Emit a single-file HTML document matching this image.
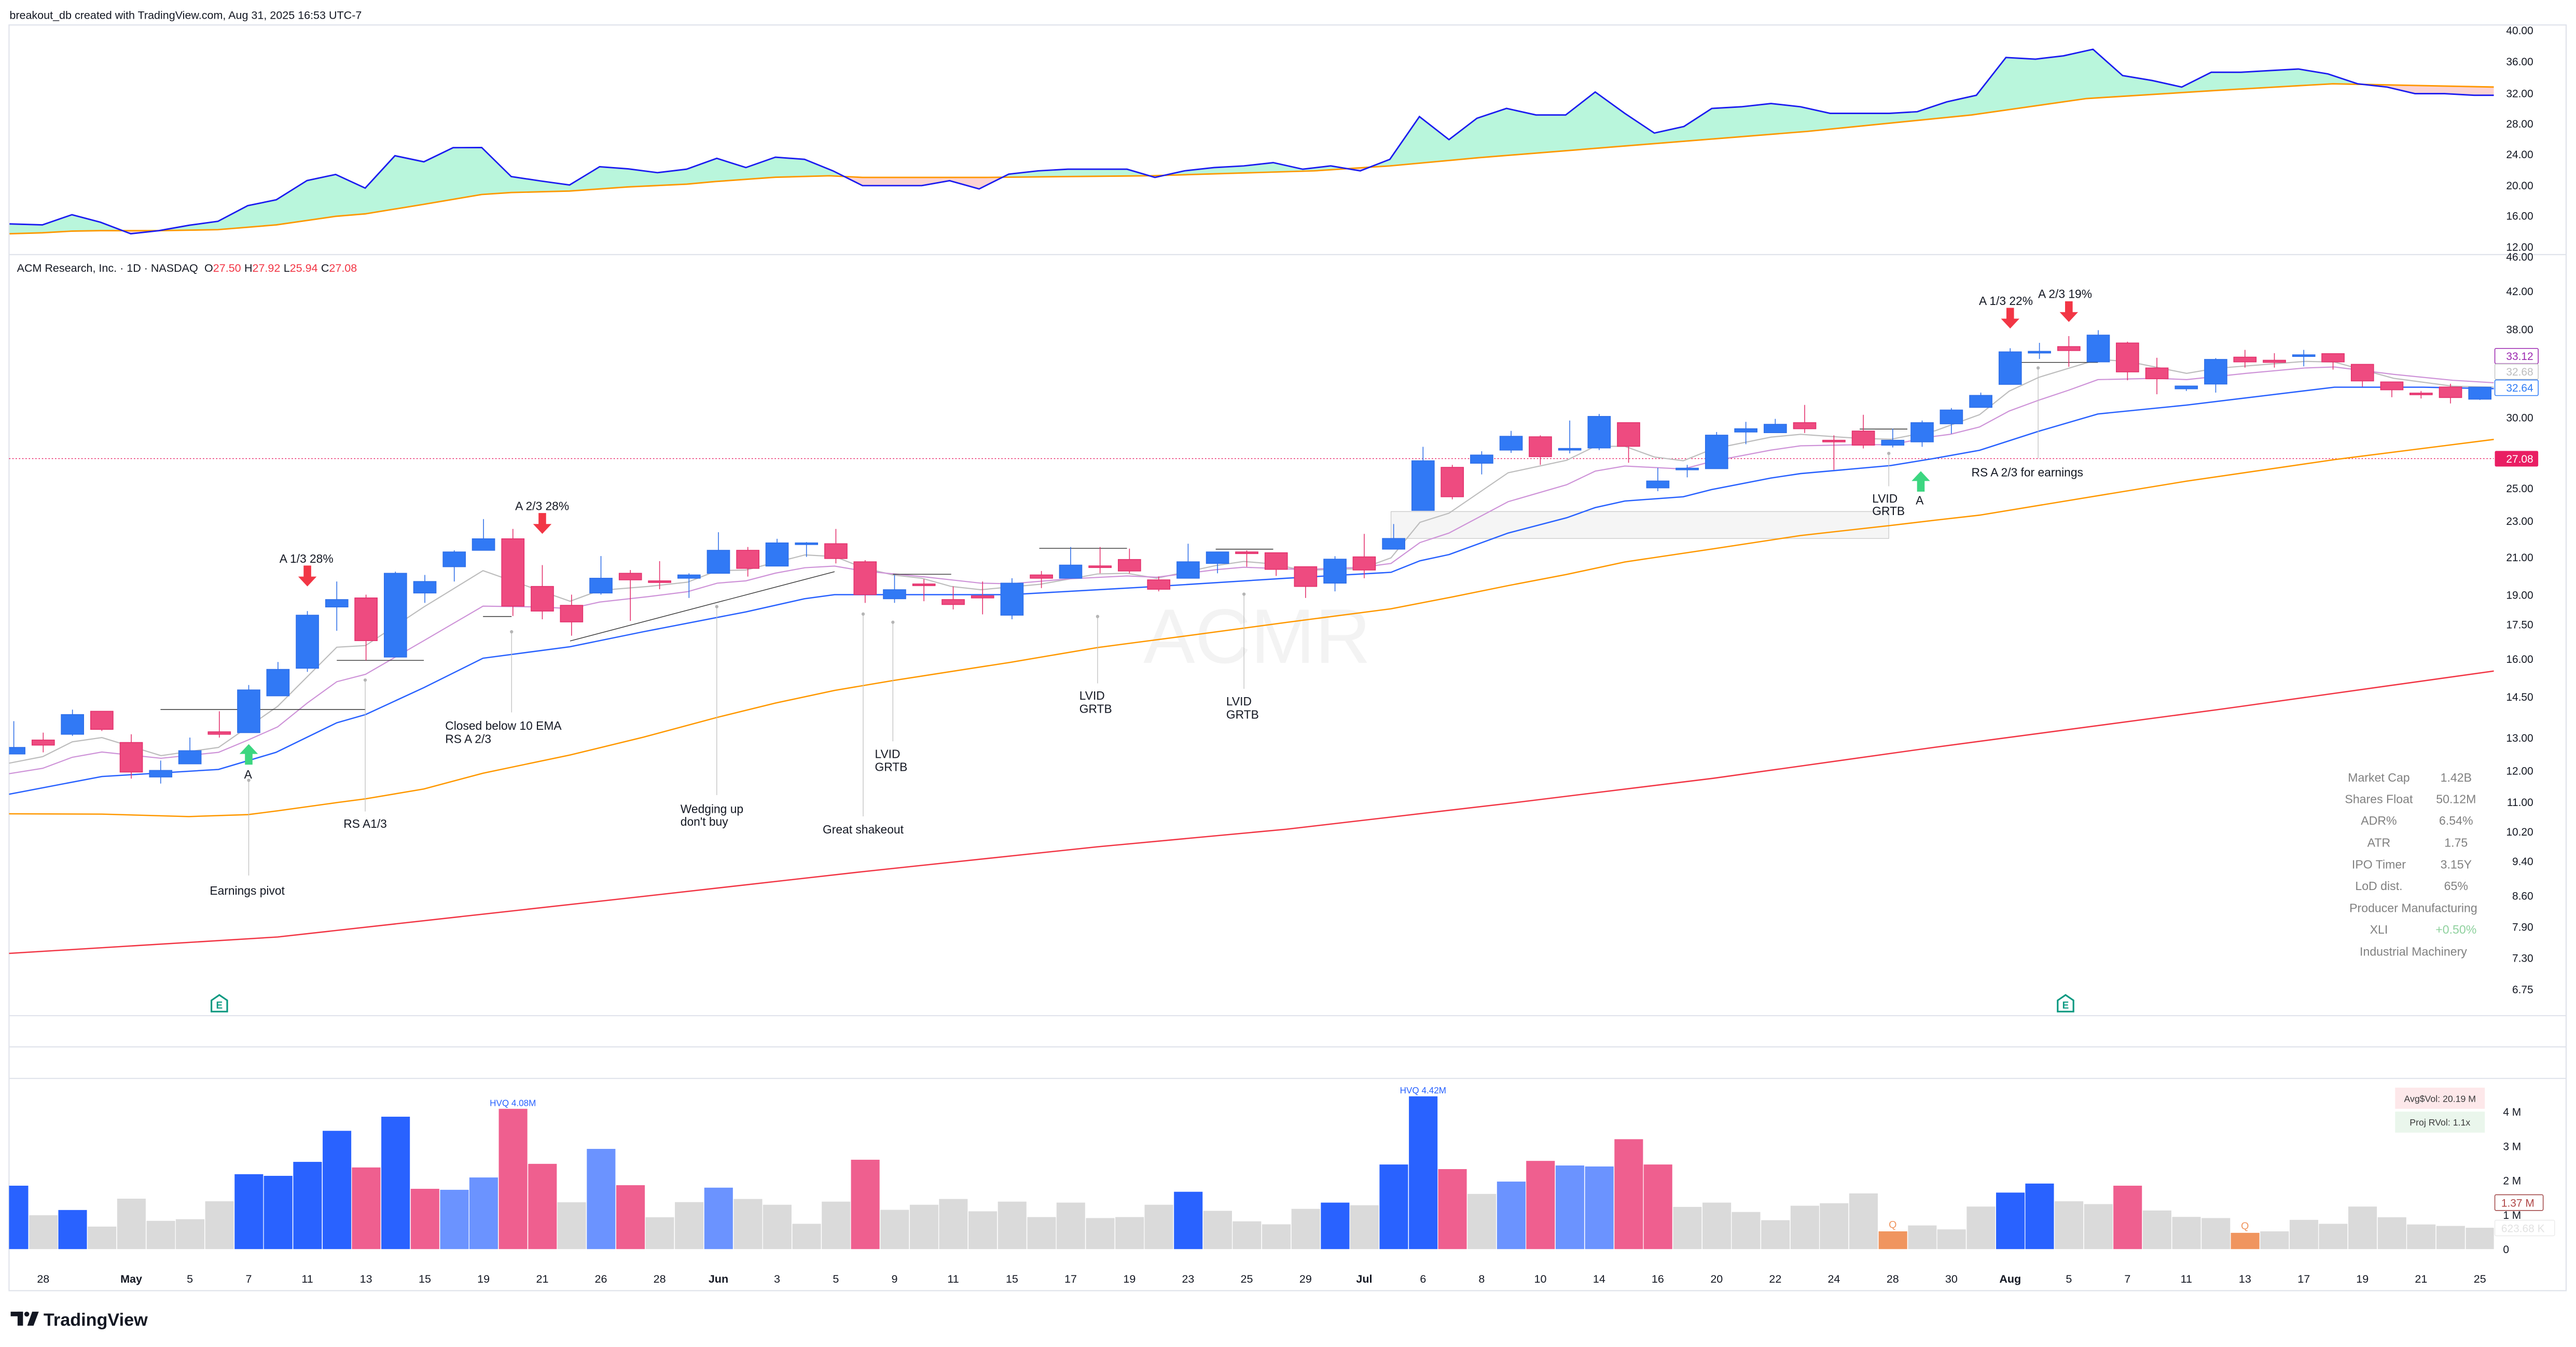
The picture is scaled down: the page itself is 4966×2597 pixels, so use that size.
<!DOCTYPE html>
<html><head><meta charset="utf-8"><style>
html,body{margin:0;padding:0;background:#fff;}
svg{display:block;}
text{font-family:"Liberation Sans",sans-serif;}
</style></head><body>
<svg width="4966" height="2597" viewBox="0 0 1568 820" preserveAspectRatio="none" xmlns="http://www.w3.org/2000/svg">
<defs>
<clipPath id="aboveO"><path d="M5.8,142.3 L25.8,141.7 L43.8,140.7 L61.2,140.4 L96.7,140.4 L132.7,139.8 L168.2,136.9 L204.3,131.7 L222.3,130.2 L257.8,124.4 L293.2,118.4 L311.2,117.2 L346.7,116.3 L382,113.8 L418,112.1 L435.6,110.5 L472,107.9 L505,107 L525,108 L600,108 L700,107 L800,104 L846,101 L900,96 L1000,88 L1100,80 L1200,70 L1270,60 L1350,55 L1420,51 L1518,53 L1518,0 L5.8,0Z"/></clipPath>
<clipPath id="belowO"><path d="M5.8,142.3 L25.8,141.7 L43.8,140.7 L61.2,140.4 L96.7,140.4 L132.7,139.8 L168.2,136.9 L204.3,131.7 L222.3,130.2 L257.8,124.4 L293.2,118.4 L311.2,117.2 L346.7,116.3 L382,113.8 L418,112.1 L435.6,110.5 L472,107.9 L505,107 L525,108 L600,108 L700,107 L800,104 L846,101 L900,96 L1000,88 L1100,80 L1200,70 L1270,60 L1350,55 L1420,51 L1518,53 L1518,160 L5.8,160Z"/></clipPath>
<clipPath id="chart"><rect x="5.5" y="15" width="1512.5" height="771"/></clipPath>
</defs>
<rect width="1568" height="820" fill="#fff"/>
<text x="5.8" y="11.5" font-size="6.8" fill="#131722">breakout_db created with TradingView.com, Aug 31, 2025 16:53 UTC-7</text>

<!-- frame -->
<g stroke="#e0e3eb" stroke-width="0.7" fill="none">
<rect x="5.5" y="15.2" width="1556.5" height="770.5"/>
<line x1="5.5" y1="155" x2="1562" y2="155"/>
<line x1="5.5" y1="618.3" x2="1562" y2="618.3"/>
<line x1="5.5" y1="637.3" x2="1562" y2="637.3"/>
<line x1="5.5" y1="656.5" x2="1562" y2="656.5"/>
</g>

<!-- top pane -->
<g clip-path="url(#chart)">
<path clip-path="url(#aboveO)" fill="#b9f6dc" d="M5.8,136.3 L25.8,136.9 L43.8,130.7 L61.2,135.3 L79.6,142.3 L96.7,140.4 L115.3,137.1 L132.7,134.7 L150.8,125.2 L168.2,121.6 L186.9,109.9 L204.3,106.2 L222.3,114.5 L240.4,94.8 L258,98.5 L275.8,89.9 L293.2,89.8 L311.2,107.5 L329.3,110.2 L346.7,112.6 L365,101.5 L382.4,102.8 L400.2,105.1 L417.9,103 L436.3,96.4 L454,102 L472,95.7 L489.7,97 L507,104 L525,113 L543,113 L561,113 L578,110 L596,115 L614,106 L632,104 L650,103 L668,103 L686,103 L703,108 L721,104 L739,102 L757,101 L775,99 L793,103 L810,101 L828,104 L846,97 L864,71 L882,85 L899,72 L917,66 L935,70 L953,70 L971,56 L989,69 L1007,81 L1025,77 L1042,66 L1060,65 L1078,63 L1096,65 L1114,69 L1132,69 L1150,69 L1167,68 L1185,62 L1203,58 L1221,35 L1239,36 L1256,34 L1274,30 L1292,46 L1310,49 L1328,53 L1346,44 L1364,44 L1381,43 L1399,42 L1417,45 L1435,51 L1453,53 L1470,57 L1488,57 L1506,58 L1518,58 L1518,155 L5.8,155Z"/>
<path clip-path="url(#belowO)" fill="#fcd3d3" d="M5.8,136.3 L25.8,136.9 L43.8,130.7 L61.2,135.3 L79.6,142.3 L96.7,140.4 L115.3,137.1 L132.7,134.7 L150.8,125.2 L168.2,121.6 L186.9,109.9 L204.3,106.2 L222.3,114.5 L240.4,94.8 L258,98.5 L275.8,89.9 L293.2,89.8 L311.2,107.5 L329.3,110.2 L346.7,112.6 L365,101.5 L382.4,102.8 L400.2,105.1 L417.9,103 L436.3,96.4 L454,102 L472,95.7 L489.7,97 L507,104 L525,113 L543,113 L561,113 L578,110 L596,115 L614,106 L632,104 L650,103 L668,103 L686,103 L703,108 L721,104 L739,102 L757,101 L775,99 L793,103 L810,101 L828,104 L846,97 L864,71 L882,85 L899,72 L917,66 L935,70 L953,70 L971,56 L989,69 L1007,81 L1025,77 L1042,66 L1060,65 L1078,63 L1096,65 L1114,69 L1132,69 L1150,69 L1167,68 L1185,62 L1203,58 L1221,35 L1239,36 L1256,34 L1274,30 L1292,46 L1310,49 L1328,53 L1346,44 L1364,44 L1381,43 L1399,42 L1417,45 L1435,51 L1453,53 L1470,57 L1488,57 L1506,58 L1518,58 L1518,16 L5.8,16Z"/>
<polyline fill="none" stroke="#ff9800" stroke-width="0.9" points="5.8,142.3 25.8,141.7 43.8,140.7 61.2,140.4 96.7,140.4 132.7,139.8 168.2,136.9 204.3,131.7 222.3,130.2 257.8,124.4 293.2,118.4 311.2,117.2 346.7,116.3 382,113.8 418,112.1 435.6,110.5 472,107.9 505,107 525,108 600,108 700,107 800,104 846,101 900,96 1000,88 1100,80 1200,70 1270,60 1350,55 1420,51 1518,53"/>
<polyline fill="none" stroke="#1c1cf0" stroke-width="0.9" points="5.8,136.3 25.8,136.9 43.8,130.7 61.2,135.3 79.6,142.3 96.7,140.4 115.3,137.1 132.7,134.7 150.8,125.2 168.2,121.6 186.9,109.9 204.3,106.2 222.3,114.5 240.4,94.8 258,98.5 275.8,89.9 293.2,89.8 311.2,107.5 329.3,110.2 346.7,112.6 365,101.5 382.4,102.8 400.2,105.1 417.9,103 436.3,96.4 454,102 472,95.7 489.7,97 507,104 525,113 543,113 561,113 578,110 596,115 614,106 632,104 650,103 668,103 686,103 703,108 721,104 739,102 757,101 775,99 793,103 810,101 828,104 846,97 864,71 882,85 899,72 917,66 935,70 953,70 971,56 989,69 1007,81 1025,77 1042,66 1060,65 1078,63 1096,65 1114,69 1132,69 1150,69 1167,68 1185,62 1203,58 1221,35 1239,36 1256,34 1274,30 1292,46 1310,49 1328,53 1346,44 1364,44 1381,43 1399,42 1417,45 1435,51 1453,53 1470,57 1488,57 1506,58 1518,58"/>
</g>
<g font-size="6.6" fill="#131722" text-anchor="end">
<text x="1542" y="20.8">40.00</text><text x="1542" y="39.8">36.00</text><text x="1542" y="59.2">32.00</text><text x="1542" y="77.7">28.00</text><text x="1542" y="96.3">24.00</text><text x="1542" y="115.3">20.00</text><text x="1542" y="133.7">16.00</text><text x="1542" y="152.6">12.00</text>
</g>

<!-- legend -->
<text x="10.3" y="165.5" font-size="6.8" fill="#131722">ACM Research, Inc. · 1D · NASDAQ <tspan dx="2">O</tspan><tspan fill="#f23645">27.50</tspan><tspan dx="2">H</tspan><tspan fill="#f23645">27.92</tspan><tspan dx="2">L</tspan><tspan fill="#f23645">25.94</tspan><tspan dx="2">C</tspan><tspan fill="#f23645">27.08</tspan></text>

<!-- watermark -->
<text x="696" y="403.5" font-size="47" fill="#f3f3f3">ACMR</text>

<!-- main pane -->
<g clip-path="url(#chart)">
<line x1="5.5" y1="279.2" x2="1518" y2="279.2" stroke="#e91e63" stroke-width="0.5" stroke-dasharray="0.8,1.2"/>
<rect x="846.7" y="311.4" width="303" height="16.4" fill="#f5f5f5" stroke="#c8c8c8" stroke-width="0.4"/>
<polyline fill="none" stroke="#f23645" stroke-width="0.8" points="5.5,580.4 169,570.4 294,556.5 391.5,545.7 525.4,530.6 668,515.5 783,504.8 918,489.1 1042.8,473.8 1177.7,454.9 1350,432 1518,408.5"/>
<polyline fill="none" stroke="#ff9800" stroke-width="0.8" points="5.5,495.4 62,495.6 115,497.1 151,495.9 169,493.6 205,488.6 222.5,486.3 258,480.3 294,470.7 347,459.6 391.5,448.8 436.6,436.7 472,428 508,420.3 543.5,414.3 615,403.2 668,394.2 722,387.1 783,378.9 846.7,370.6 882,363.8 918,356.5 953.6,349.7 989,342.1 1042.8,334.1 1096,326 1149.7,320 1177.7,316.7 1205,313.6 1331,292.9 1421,279.8 1518,267.5"/>
<polyline fill="none" stroke="#bdbdbd" stroke-width="0.7" points="5.5,464.6 26,460.6 44,451.6 62,449 98,460 133,455 169,430 205,394 222.5,393 258,369.5 294,347.4 347,366 365,359.4 394.7,357 418.5,354.4 436.6,347.4 454,347 490,337.8 508,338.8 525.4,345.6 543.5,350 561,352 579,357 597,359 633,355.7 668,349.4 686,349 704,352 740,344.3 757,341.8 775,343.3 793,347.2 828.6,346.2 846.7,339.6 864.3,318 882,312.4 918,287.8 953.6,280.2 971,271.7 989,271.7 1007,278.2 1024.6,280.5 1042.8,273.2 1078,266.1 1096,264.4 1132,266.9 1151,267.4 1178,262.2 1205,252.4 1223,238.1 1241,229.7 1277,218.8 1295,220 1331,227.3 1349,224.2 1403,220 1421,220.4 1457,230.3 1493,235.1 1518,235.7"/>
<polyline fill="none" stroke="#ce93d8" stroke-width="0.7" points="5.5,471 26,467.7 44,461 62,457.8 98,461.6 133,458 151,450.5 169,442.5 187,428 205,415 222.5,410.5 258,390 294,369 329,369.5 347,370.5 365,366.5 394.7,363.2 418.5,360.2 436.6,355 454,353.6 472,348.9 490,345.6 508,344.6 525.4,347.6 561,351 597,355 615,355.4 650.5,352.4 686,350.6 704,351.4 740,346.8 757,345.3 793,346.7 828.6,345.4 846.7,343 864.3,330.3 882,324.5 918,305.4 953.6,295.1 971,286.8 989,283.7 1024.6,285.5 1042.8,280.7 1078,274 1096,271.4 1132,270.7 1151,270.7 1177.7,265.6 1187,264.4 1205,259.9 1223,250.2 1241,243.6 1259,237.6 1277,231.1 1313,230.3 1331,231.1 1367,227.3 1403,224 1421,223.4 1457,227.9 1493,231.5 1518,233"/>
<polyline fill="none" stroke="#2962ff" stroke-width="0.8" points="5.5,483.5 62,472.7 133,468.4 168,458 205,440 222.5,435 258,418.6 294,400.7 347,393.7 391.5,384.6 454,372.5 489.7,364.5 508,362 615,362 704,357 783,352 846.7,348.4 864.3,341.4 882,337.6 918,324.5 953.6,315.2 971,309 989,305 1024.6,302.4 1042,298 1078,291 1096,288.3 1151,283.4 1177.7,279 1205,274.1 1241,262.5 1277,252 1331,246.6 1421,235.7 1475,235.7 1518,236.6"/>
<g stroke="#333" stroke-width="0.45">
<line x1="97.7" y1="431.9" x2="222.5" y2="431.9"/><line x1="205" y1="402" x2="258" y2="402"/><line x1="294" y1="375.3" x2="311.4" y2="375.3"/><line x1="347" y1="390.2" x2="508" y2="348"/><line x1="543.5" y1="349.6" x2="579" y2="349.6"/><line x1="632.6" y1="333.8" x2="686" y2="333.8"/><line x1="740" y1="334.3" x2="775" y2="334.3"/><line x1="1132" y1="261.2" x2="1161" y2="261.2"/><line x1="1230" y1="220.6" x2="1277" y2="220.6"/>
</g>
<!-- blue candles -->
<g fill="#3179f5" stroke="#2f6fe8" stroke-width="0.5">
<line x1="8.4" y1="439" x2="8.4" y2="459"/><rect x="1.6" y="455" width="13.6" height="4"/>
<line x1="44.1" y1="432" x2="44.1" y2="448"/><rect x="37.3" y="435" width="13.6" height="12"/>
<line x1="97.8" y1="463" x2="97.8" y2="477"/><rect x="91" y="469" width="13.6" height="4"/>
<line x1="115.6" y1="449" x2="115.6" y2="465"/><rect x="108.8" y="457" width="13.6" height="8"/>
<line x1="151.4" y1="417" x2="151.4" y2="446"/><rect x="144.6" y="420" width="13.6" height="26"/>
<line x1="169.2" y1="403" x2="169.2" y2="423.6"/><rect x="162.4" y="407.5" width="13.6" height="16.1"/>
<line x1="187.1" y1="372" x2="187.1" y2="409"/><rect x="180.3" y="374.5" width="13.6" height="32.3"/>
<line x1="205" y1="354" x2="205" y2="384"/><rect x="198.2" y="365" width="13.6" height="4.5"/>
<line x1="240.7" y1="348" x2="240.7" y2="400"/><rect x="233.9" y="349" width="13.6" height="51"/>
<line x1="258.6" y1="350" x2="258.6" y2="367"/><rect x="251.8" y="354" width="13.6" height="7"/>
<line x1="276.5" y1="335" x2="276.5" y2="354"/><rect x="269.7" y="336" width="13.6" height="9"/>
<line x1="294.3" y1="316" x2="294.3" y2="335"/><rect x="287.5" y="328" width="13.6" height="7"/>
<line x1="365.8" y1="338.5" x2="365.8" y2="362"/><rect x="359" y="352" width="13.6" height="9"/>
<line x1="419.4" y1="349" x2="419.4" y2="364"/><rect x="412.6" y="350" width="13.6" height="2"/>
<line x1="437.3" y1="324" x2="437.3" y2="349"/><rect x="430.5" y="335" width="13.6" height="14"/>
<line x1="473" y1="328" x2="473" y2="344.6"/><rect x="466.2" y="330.5" width="13.6" height="14.1"/>
<line x1="490.9" y1="330" x2="490.9" y2="339"/><rect x="484.1" y="330.5" width="13.6" height="1"/>
<line x1="544.5" y1="350" x2="544.5" y2="367"/><rect x="537.7" y="359" width="13.6" height="5.5"/>
<line x1="616" y1="352" x2="616" y2="377"/><rect x="609.2" y="355" width="13.6" height="19.5"/>
<line x1="651.7" y1="333" x2="651.7" y2="352"/><rect x="644.9" y="344" width="13.6" height="8"/>
<line x1="723.2" y1="331" x2="723.2" y2="352"/><rect x="716.4" y="342" width="13.6" height="10"/>
<line x1="741.1" y1="336" x2="741.1" y2="349"/><rect x="734.3" y="336" width="13.6" height="7"/>
<line x1="812.6" y1="338.6" x2="812.6" y2="360"/><rect x="805.8" y="340.4" width="13.6" height="14.6"/>
<line x1="848.3" y1="319" x2="848.3" y2="334.3"/><rect x="841.5" y="327.8" width="13.6" height="6.5"/>
<line x1="866.2" y1="272" x2="866.2" y2="310.7"/><rect x="859.4" y="280.5" width="13.6" height="30.2"/>
<line x1="901.9" y1="274.7" x2="901.9" y2="288.8"/><rect x="895.1" y="277" width="13.6" height="5"/>
<line x1="919.8" y1="262.3" x2="919.8" y2="275.7"/><rect x="913" y="265.6" width="13.6" height="8.4"/>
<line x1="955.5" y1="256" x2="955.5" y2="276"/><rect x="948.7" y="273" width="13.6" height="1"/>
<line x1="973.4" y1="252" x2="973.4" y2="274"/><rect x="966.6" y="253.5" width="13.6" height="19.2"/>
<line x1="1009.1" y1="284.8" x2="1009.1" y2="299"/><rect x="1002.3" y="292.8" width="13.6" height="4.2"/>
<line x1="1027" y1="283" x2="1027" y2="290.6"/><rect x="1020.2" y="285" width="13.6" height="1"/>
<line x1="1044.9" y1="263" x2="1044.9" y2="285.3"/><rect x="1038.1" y="264.9" width="13.6" height="20.4"/>
<line x1="1062.7" y1="256.8" x2="1062.7" y2="270.4"/><rect x="1055.9" y="261" width="13.6" height="2"/>
<line x1="1080.6" y1="255" x2="1080.6" y2="263.4"/><rect x="1073.8" y="258.3" width="13.6" height="5.1"/>
<line x1="1152.1" y1="261" x2="1152.1" y2="272.4"/><rect x="1145.3" y="268" width="13.6" height="3"/>
<line x1="1170" y1="256" x2="1170" y2="272"/><rect x="1163.2" y="257.3" width="13.6" height="11.7"/>
<line x1="1187.8" y1="248.4" x2="1187.8" y2="264"/><rect x="1181" y="249.6" width="13.6" height="8.4"/>
<line x1="1205.7" y1="239" x2="1205.7" y2="248"/><rect x="1198.9" y="240.7" width="13.6" height="7.3"/>
<line x1="1223.6" y1="212" x2="1223.6" y2="234"/><rect x="1216.8" y="214.2" width="13.6" height="19.8"/>
<line x1="1241.4" y1="208.7" x2="1241.4" y2="218.5"/><rect x="1234.6" y="213.9" width="13.6" height="1"/>
<line x1="1277.2" y1="201" x2="1277.2" y2="220.3"/><rect x="1270.4" y="204" width="13.6" height="16.3"/>
<line x1="1330.8" y1="235" x2="1330.8" y2="238"/><rect x="1324" y="235" width="13.6" height="1.7"/>
<line x1="1348.7" y1="218" x2="1348.7" y2="239"/><rect x="1341.9" y="218.8" width="13.6" height="15"/>
<line x1="1402.3" y1="213" x2="1402.3" y2="223"/><rect x="1395.5" y="216" width="13.6" height="1"/>
<line x1="1509.5" y1="235.7" x2="1509.5" y2="243.5"/><rect x="1502.7" y="235.7" width="13.6" height="7.3"/>
</g>
<!-- pink candles -->
<g fill="#ee4b80" stroke="#e3306c" stroke-width="0.5">
<line x1="26.3" y1="446" x2="26.3" y2="458"/><rect x="19.5" y="450.5" width="13.6" height="3.1"/>
<line x1="62" y1="433" x2="62" y2="445"/><rect x="55.2" y="433" width="13.6" height="11"/>
<line x1="79.9" y1="447" x2="79.9" y2="474"/><rect x="73.1" y="452" width="13.6" height="18"/>
<line x1="133.5" y1="433" x2="133.5" y2="449"/><rect x="126.7" y="445.5" width="13.6" height="1.5"/>
<line x1="222.8" y1="362" x2="222.8" y2="402"/><rect x="216" y="364" width="13.6" height="26"/>
<line x1="312.2" y1="322" x2="312.2" y2="375"/><rect x="305.4" y="328" width="13.6" height="41"/>
<line x1="330.1" y1="344" x2="330.1" y2="377"/><rect x="323.3" y="357" width="13.6" height="15"/>
<line x1="347.9" y1="362" x2="347.9" y2="387"/><rect x="341.1" y="368.5" width="13.6" height="10.1"/>
<line x1="383.7" y1="347" x2="383.7" y2="378"/><rect x="376.9" y="349" width="13.6" height="4"/>
<line x1="401.5" y1="341.6" x2="401.5" y2="358.7"/><rect x="394.7" y="353.6" width="13.6" height="1"/>
<line x1="455.2" y1="333" x2="455.2" y2="351"/><rect x="448.4" y="335" width="13.6" height="11"/>
<line x1="508.8" y1="322" x2="508.8" y2="343"/><rect x="502" y="331" width="13.6" height="9"/>
<line x1="526.6" y1="341" x2="526.6" y2="367"/><rect x="519.8" y="342" width="13.6" height="20"/>
<line x1="562.4" y1="352.6" x2="562.4" y2="366"/><rect x="555.6" y="355.5" width="13.6" height="1"/>
<line x1="580.2" y1="357" x2="580.2" y2="371"/><rect x="573.4" y="365" width="13.6" height="3"/>
<line x1="598.1" y1="354" x2="598.1" y2="374"/><rect x="591.3" y="362.7" width="13.6" height="1.3"/>
<line x1="633.9" y1="347.6" x2="633.9" y2="358"/><rect x="627.1" y="350" width="13.6" height="2"/>
<line x1="669.6" y1="333" x2="669.6" y2="349"/><rect x="662.8" y="344.5" width="13.6" height="1"/>
<line x1="687.5" y1="334" x2="687.5" y2="349"/><rect x="680.7" y="340.6" width="13.6" height="7"/>
<line x1="705.3" y1="351" x2="705.3" y2="360"/><rect x="698.5" y="353" width="13.6" height="5.7"/>
<line x1="758.9" y1="335" x2="758.9" y2="345"/><rect x="752.1" y="336" width="13.6" height="1"/>
<line x1="776.8" y1="336.5" x2="776.8" y2="350.6"/><rect x="770" y="336.5" width="13.6" height="10.1"/>
<line x1="794.7" y1="345" x2="794.7" y2="364"/><rect x="787.9" y="345" width="13.6" height="12"/>
<line x1="830.4" y1="325" x2="830.4" y2="352"/><rect x="823.6" y="339" width="13.6" height="8"/>
<line x1="884" y1="283" x2="884" y2="304"/><rect x="877.2" y="284.5" width="13.6" height="17.9"/>
<line x1="937.6" y1="265" x2="937.6" y2="283"/><rect x="930.8" y="265.9" width="13.6" height="12.1"/>
<line x1="991.3" y1="257.3" x2="991.3" y2="281.7"/><rect x="984.5" y="257.3" width="13.6" height="14.4"/>
<line x1="1098.5" y1="246.5" x2="1098.5" y2="263.6"/><rect x="1091.7" y="257.3" width="13.6" height="3.7"/>
<line x1="1116.3" y1="265" x2="1116.3" y2="286"/><rect x="1109.5" y="268" width="13.6" height="1"/>
<line x1="1134.2" y1="252.5" x2="1134.2" y2="273"/><rect x="1127.4" y="262.4" width="13.6" height="8.6"/>
<line x1="1259.3" y1="204.6" x2="1259.3" y2="223.3"/><rect x="1252.5" y="211" width="13.6" height="2.4"/>
<line x1="1295" y1="208" x2="1295" y2="231.5"/><rect x="1288.2" y="208.8" width="13.6" height="17.6"/>
<line x1="1312.9" y1="217.8" x2="1312.9" y2="240"/><rect x="1306.1" y="224" width="13.6" height="6.6"/>
<line x1="1366.5" y1="213" x2="1366.5" y2="223.8"/><rect x="1359.7" y="217.4" width="13.6" height="2.9"/>
<line x1="1384.4" y1="215" x2="1384.4" y2="223.8"/><rect x="1377.6" y="219.3" width="13.6" height="1.3"/>
<line x1="1420.1" y1="215.3" x2="1420.1" y2="225"/><rect x="1413.3" y="215.3" width="13.6" height="5"/>
<line x1="1438" y1="221.8" x2="1438" y2="235.4"/><rect x="1431.2" y="221.8" width="13.6" height="10.1"/>
<line x1="1455.9" y1="232.5" x2="1455.9" y2="241.8"/><rect x="1449.1" y="232.5" width="13.6" height="4.8"/>
<line x1="1473.7" y1="238" x2="1473.7" y2="242.6"/><rect x="1466.9" y="239.3" width="13.6" height="1"/>
<line x1="1491.6" y1="233.6" x2="1491.6" y2="245.6"/><rect x="1484.8" y="235.6" width="13.6" height="6.4"/>
</g>
</g>

<!-- annotation leader lines -->
<g stroke="#bdbdbd" stroke-width="0.4">
<line x1="151.4" y1="475" x2="151.4" y2="533"/><line x1="222.3" y1="414" x2="222.3" y2="494"/><line x1="311.4" y1="384.6" x2="311.4" y2="433.7"/><line x1="436.3" y1="369.3" x2="436.3" y2="484"/><line x1="525.4" y1="373.8" x2="525.4" y2="497"/><line x1="543.5" y1="378.8" x2="543.5" y2="451.3"/><line x1="668.1" y1="375.3" x2="668.1" y2="416"/><line x1="757.2" y1="361.7" x2="757.2" y2="419.3"/><line x1="1149.7" y1="276" x2="1149.7" y2="296"/><line x1="1240.6" y1="224" x2="1240.6" y2="279"/>
</g>
<g fill="#b5b5b5">
<circle cx="151.4" cy="475" r="1"/><circle cx="222.3" cy="414" r="1"/><circle cx="311.4" cy="384.6" r="1"/><circle cx="436.3" cy="369.3" r="1"/><circle cx="525.4" cy="373.8" r="1"/><circle cx="543.5" cy="378.8" r="1"/><circle cx="668.1" cy="375.3" r="1"/><circle cx="757.2" cy="361.7" r="1"/><circle cx="1149.7" cy="276" r="1"/><circle cx="1240.6" cy="224" r="1"/>
</g>
<!-- arrows -->
<g fill="#f23645">
<polygon points="184.8,344.3 189.4,344.3 189.4,351 192.7,351 187.1,357 181.5,351 184.8,351"/>
<polygon points="327.8,312.3 332.4,312.3 332.4,319 335.7,319 330.1,325 324.5,319 327.8,319"/>
<polygon points="1221.3,187.4 1225.9,187.4 1225.9,194 1229.2,194 1223.6,200 1218,194 1221.3,194"/>
<polygon points="1257,183.4 1261.6,183.4 1261.6,190 1264.9,190 1259.3,196 1253.7,190 1257,190"/>
</g>
<g fill="#3cd680">
<polygon points="151.4,453 157,459 153.7,459 153.7,465.5 149.1,465.5 149.1,459 145.8,459"/>
<polygon points="1169.2,286.8 1174.8,292.8 1171.5,292.8 1171.5,299.3 1166.9,299.3 1166.9,292.8 1163.6,292.8"/>
</g>
<g font-size="7.2" fill="#131722">
<text x="186.5" y="342.6" text-anchor="middle">A 1/3 28%</text>
<text x="330" y="310.5" text-anchor="middle">A 2/3 28%</text>
<text x="1221" y="185.6" text-anchor="middle">A 1/3 22%</text>
<text x="1257" y="181.4" text-anchor="middle">A 2/3 19%</text>
<text x="151" y="474" text-anchor="middle">A</text>
<text x="1168.5" y="307" text-anchor="middle">A</text>
<text x="150.5" y="544.7" text-anchor="middle">Earnings pivot</text>
<text x="222.3" y="504" text-anchor="middle">RS A1/3</text>
<text x="271" y="444.3">Closed below 10 EMA</text>
<text x="271" y="452.3">RS A 2/3</text>
<text x="414.2" y="494.9">Wedging up</text>
<text x="414.2" y="502.7">don't buy</text>
<text x="525.4" y="507.4" text-anchor="middle">Great shakeout</text>
<text x="532.5" y="461.4">LVID</text><text x="532.5" y="469.4">GRTB</text>
<text x="657" y="426">LVID</text><text x="657" y="434">GRTB</text>
<text x="746.4" y="429.4">LVID</text><text x="746.4" y="437.5">GRTB</text>
<text x="1139.6" y="306">LVID</text><text x="1139.6" y="313.6">GRTB</text>
<text x="1200" y="290">RS A 2/3 for earnings</text>
</g>
<!-- E markers -->
<g fill="#fff" stroke="#089981" stroke-width="1">
<path d="M128.7,609 L133.5,605.7 L138.3,609 L138.3,615.8 L128.7,615.8Z"/>
<path d="M1252.5,609 L1257.3,605.7 L1262.1,609 L1262.1,615.8 L1252.5,615.8Z"/>
</g>
<g font-size="6" font-weight="bold" fill="#089981" text-anchor="middle"><text x="133.5" y="614">E</text><text x="1257.3" y="614">E</text></g>

<!-- info table -->
<g font-size="7.3" fill="#808080" text-anchor="middle">
<text x="1448" y="475.8">Market Cap</text><text x="1495" y="475.8">1.42B</text>
<text x="1448" y="489">Shares Float</text><text x="1495" y="489">50.12M</text>
<text x="1448" y="502.1">ADR%</text><text x="1495" y="502.1">6.54%</text>
<text x="1448" y="515.5">ATR</text><text x="1495" y="515.5">1.75</text>
<text x="1448" y="528.7">IPO Timer</text><text x="1495" y="528.7">3.15Y</text>
<text x="1448" y="541.9">LoD dist.</text><text x="1495" y="541.9">65%</text>
<text x="1469" y="555.3">Producer Manufacturing</text>
<text x="1448" y="568.4">XLI</text><text x="1495" y="568.4" fill="#8fd19e">+0.50%</text>
<text x="1469" y="581.8">Industrial Machinery</text>
</g>

<!-- main price axis -->
<g font-size="6.6" fill="#131722" text-anchor="end">
<text x="1542" y="158.6">46.00</text><text x="1542" y="179.7">42.00</text><text x="1542" y="202.8">38.00</text><text x="1542" y="256.6">30.00</text><text x="1542" y="299.6">25.00</text><text x="1542" y="319.6">23.00</text><text x="1542" y="341.6">21.00</text><text x="1542" y="364.6">19.00</text><text x="1542" y="382.6">17.50</text><text x="1542" y="403.6">16.00</text><text x="1542" y="426.6">14.50</text><text x="1542" y="451.6">13.00</text><text x="1542" y="471.6">12.00</text><text x="1542" y="490.6">11.00</text><text x="1542" y="508.6">10.20</text><text x="1542" y="526.6">9.40</text><text x="1542" y="547.6">8.60</text><text x="1542" y="566.6">7.90</text><text x="1542" y="585.6">7.30</text><text x="1542" y="604.6">6.75</text>
</g>
<rect x="1518.6" y="212.1" width="26.4" height="9.3" rx="0.8" fill="#fff" stroke="#9c27b0" stroke-width="0.5"/>
<rect x="1518.6" y="221.6" width="26.4" height="9.3" rx="0.8" fill="#fff" stroke="#c8c8c8" stroke-width="0.5"/>
<rect x="1518.6" y="231.3" width="26.4" height="9.5" rx="0.8" fill="#fff" stroke="#2f7cf6" stroke-width="0.5"/>
<rect x="1518.6" y="274.5" width="26.4" height="9.5" rx="0.8" fill="#e91e63"/>
<g font-size="6.6" text-anchor="end">
<text x="1542" y="219.1" fill="#9c27b0">33.12</text>
<text x="1542" y="228.6" fill="#bdbdbd">32.68</text>
<text x="1542" y="238.4" fill="#2f7cf6">32.64</text>
<text x="1542" y="281.6" fill="#fff">27.08</text>
</g>

<!-- volume -->
<g clip-path="url(#chart)">
<g fill="#dadada">
<rect x="17.7" y="739.8" width="17.4" height="20.6"/><rect x="53.4" y="746.7" width="17.4" height="13.7"/><rect x="71.3" y="729.7" width="17.4" height="30.7"/><rect x="89.2" y="743.2" width="17.4" height="17.2"/><rect x="107" y="742.2" width="17.4" height="18.2"/><rect x="124.9" y="731.3" width="17.4" height="29.1"/><rect x="339.3" y="731.9" width="17.4" height="28.5"/><rect x="392.9" y="741" width="17.4" height="19.4"/><rect x="410.8" y="731.8" width="17.4" height="28.6"/><rect x="446.6" y="729.9" width="17.4" height="30.5"/><rect x="464.4" y="733.4" width="17.4" height="27"/><rect x="482.3" y="745" width="17.4" height="15.4"/><rect x="500.2" y="731.5" width="17.4" height="28.9"/><rect x="535.9" y="736.5" width="17.4" height="23.9"/><rect x="553.8" y="733.4" width="17.4" height="27"/><rect x="571.6" y="729.9" width="17.4" height="30.5"/><rect x="589.5" y="737.4" width="17.4" height="23"/><rect x="607.4" y="731.5" width="17.4" height="28.9"/><rect x="625.3" y="740.9" width="17.4" height="19.5"/><rect x="643.1" y="732.1" width="17.4" height="28.3"/><rect x="661" y="741.5" width="17.4" height="18.9"/><rect x="678.9" y="740.9" width="17.4" height="19.5"/><rect x="696.7" y="733.4" width="17.4" height="27"/><rect x="732.5" y="737.1" width="17.4" height="23.3"/><rect x="750.3" y="743.5" width="17.4" height="16.9"/><rect x="768.2" y="745.3" width="17.4" height="15.1"/><rect x="786.1" y="735.9" width="17.4" height="24.5"/><rect x="821.8" y="733.7" width="17.4" height="26.7"/><rect x="893.3" y="726.8" width="17.4" height="33.6"/><rect x="1018.4" y="734.7" width="17.4" height="25.7"/><rect x="1036.3" y="732.1" width="17.4" height="28.3"/><rect x="1054.1" y="737.8" width="17.4" height="22.6"/><rect x="1072" y="742.8" width="17.4" height="17.6"/><rect x="1089.9" y="734" width="17.4" height="26.4"/><rect x="1107.7" y="732.5" width="17.4" height="27.9"/><rect x="1125.6" y="726.5" width="17.4" height="33.9"/><rect x="1161.4" y="746" width="17.4" height="14.4"/><rect x="1179.2" y="748.4" width="17.4" height="12"/><rect x="1197.1" y="734.5" width="17.4" height="25.9"/><rect x="1250.7" y="731.3" width="17.4" height="29.1"/><rect x="1268.6" y="733" width="17.4" height="27.4"/><rect x="1304.3" y="736.9" width="17.4" height="23.5"/><rect x="1322.2" y="740.8" width="17.4" height="19.6"/><rect x="1340.1" y="741.5" width="17.4" height="18.9"/><rect x="1375.8" y="749.6" width="17.4" height="10.8"/><rect x="1393.7" y="742.6" width="17.4" height="17.8"/><rect x="1411.5" y="745" width="17.4" height="15.4"/><rect x="1429.4" y="734.5" width="17.4" height="25.9"/><rect x="1447.3" y="741" width="17.4" height="19.4"/><rect x="1465.1" y="745.4" width="17.4" height="15"/><rect x="1483" y="746.3" width="17.4" height="14.1"/><rect x="1500.9" y="747.4" width="17.4" height="13"/><rect x="1518.7" y="749.3" width="17.4" height="11.1"/>
</g>
<g fill="#2962ff">
<rect x="-0.2" y="721.8" width="17.4" height="38.6"/><rect x="35.5" y="736.6" width="17.4" height="23.8"/><rect x="142.8" y="714.8" width="17.4" height="45.6"/><rect x="160.6" y="715.8" width="17.4" height="44.6"/><rect x="178.5" y="707.3" width="17.4" height="53.1"/><rect x="196.4" y="688.4" width="17.4" height="72"/><rect x="232.1" y="679.8" width="17.4" height="80.6"/><rect x="714.6" y="725.5" width="17.4" height="34.9"/><rect x="804" y="732.1" width="17.4" height="28.3"/><rect x="839.7" y="708.9" width="17.4" height="51.5"/><rect x="857.6" y="667.4" width="17.4" height="93"/><rect x="1215" y="726" width="17.4" height="34.4"/><rect x="1232.8" y="720.5" width="17.4" height="39.9"/>
</g>
<g fill="#6b93ff">
<rect x="267.9" y="724.3" width="17.4" height="36.1"/><rect x="285.7" y="716.8" width="17.4" height="43.6"/><rect x="357.2" y="699.4" width="17.4" height="61"/><rect x="428.7" y="723" width="17.4" height="37.4"/><rect x="911.2" y="719.3" width="17.4" height="41.1"/><rect x="946.9" y="709.5" width="17.4" height="50.9"/><rect x="964.8" y="710.1" width="17.4" height="50.3"/>
</g>
<g fill="#ef5f8f">
<rect x="214.2" y="710.7" width="17.4" height="49.7"/><rect x="250" y="723.7" width="17.4" height="36.7"/><rect x="303.6" y="675" width="17.4" height="85.4"/><rect x="321.5" y="708.5" width="17.4" height="51.9"/><rect x="375.1" y="721.5" width="17.4" height="38.9"/><rect x="518" y="706" width="17.4" height="54.4"/><rect x="875.4" y="711.7" width="17.4" height="48.7"/><rect x="929" y="706.7" width="17.4" height="53.7"/><rect x="982.7" y="693.5" width="17.4" height="66.9"/><rect x="1000.5" y="708.9" width="17.4" height="51.5"/><rect x="1286.4" y="721.8" width="17.4" height="38.6"/>
</g>
<g fill="#f0955f">
<rect x="1143.5" y="749.6" width="17.4" height="10.8"/><rect x="1357.9" y="750.5" width="17.4" height="9.9"/>
</g>
</g>
<g font-size="5.4" fill="#2962ff" text-anchor="middle"><text x="312.2" y="673.3">HVQ 4.08M</text><text x="866.2" y="665.6">HVQ 4.42M</text></g>
<g font-size="6.2" fill="#f0955f" text-anchor="middle"><text x="1152.1" y="747.6">Q</text><text x="1366.5" y="748.4">Q</text></g>
<rect x="1457.9" y="662.1" width="54.6" height="12.9" fill="#fde8ea"/>
<rect x="1457.9" y="676.7" width="54.6" height="12.8" fill="#eaf6ec"/>
<g font-size="5.6" fill="#3a3a3a" text-anchor="middle"><text x="1485.2" y="670.8">Avg$Vol: 20.19 M</text><text x="1485.2" y="685.2">Proj RVol: 1.1x</text></g>
<g font-size="6.6" fill="#131722">
<text x="1523.6" y="679.2">4 M</text><text x="1523.6" y="700.2">3 M</text><text x="1523.6" y="721">2 M</text><text x="1523.6" y="742">1 M</text><text x="1523.6" y="762.8">0</text>
</g>
<rect x="1518.6" y="727.3" width="29.4" height="9.6" rx="0.8" fill="#fff" stroke="#a34a4a" stroke-width="0.5"/>
<text x="1522.5" y="734.6" font-size="6.6" fill="#b04848">1.37 M</text>
<rect x="1518.6" y="742.8" width="36.4" height="9.5" rx="0.8" fill="#fff" stroke="#e8e8e8" stroke-width="0.4"/>
<text x="1522.5" y="750" font-size="6.6" fill="#e2e2e2">623.68 K</text>

<!-- time axis -->
<g font-size="6.8" fill="#131722" text-anchor="middle">
<text x="26.3" y="780.8">28</text><text x="79.9" y="780.8" font-weight="bold">May</text><text x="115.6" y="780.8">5</text><text x="151.4" y="780.8">7</text><text x="187.1" y="780.8">11</text><text x="222.8" y="780.8">13</text><text x="258.6" y="780.8">15</text><text x="294.3" y="780.8">19</text><text x="330.1" y="780.8">21</text><text x="365.8" y="780.8">26</text><text x="401.5" y="780.8">28</text><text x="437.3" y="780.8" font-weight="bold">Jun</text><text x="473" y="780.8">3</text><text x="508.8" y="780.8">5</text><text x="544.5" y="780.8">9</text><text x="580.2" y="780.8">11</text><text x="616" y="780.8">15</text><text x="651.7" y="780.8">17</text><text x="687.5" y="780.8">19</text><text x="723.2" y="780.8">23</text><text x="758.9" y="780.8">25</text><text x="794.7" y="780.8">29</text><text x="830.4" y="780.8" font-weight="bold">Jul</text><text x="866.2" y="780.8">6</text><text x="901.9" y="780.8">8</text><text x="937.6" y="780.8">10</text><text x="973.4" y="780.8">14</text><text x="1009.1" y="780.8">16</text><text x="1044.9" y="780.8">20</text><text x="1080.6" y="780.8">22</text><text x="1116.3" y="780.8">24</text><text x="1152.1" y="780.8">28</text><text x="1187.8" y="780.8">30</text><text x="1223.6" y="780.8" font-weight="bold">Aug</text><text x="1259.3" y="780.8">5</text><text x="1295" y="780.8">7</text><text x="1330.8" y="780.8">11</text><text x="1366.5" y="780.8">13</text><text x="1402.3" y="780.8">17</text><text x="1438" y="780.8">19</text><text x="1473.7" y="780.8">21</text><text x="1509.5" y="780.8">25</text>
</g>

<!-- logo -->
<g fill="#131722">
<rect x="6.5" y="798.5" width="7.5" height="2.8"/><rect x="10.7" y="798.5" width="3.3" height="8.5"/>
<circle cx="16.3" cy="800" r="1.5"/>
<polygon points="19.6,798.5 23.6,798.5 20.4,807 16.6,807"/>
<text x="26.5" y="807" font-size="10.8" font-weight="bold">TradingView</text>
</g>
</svg>
</body></html>
